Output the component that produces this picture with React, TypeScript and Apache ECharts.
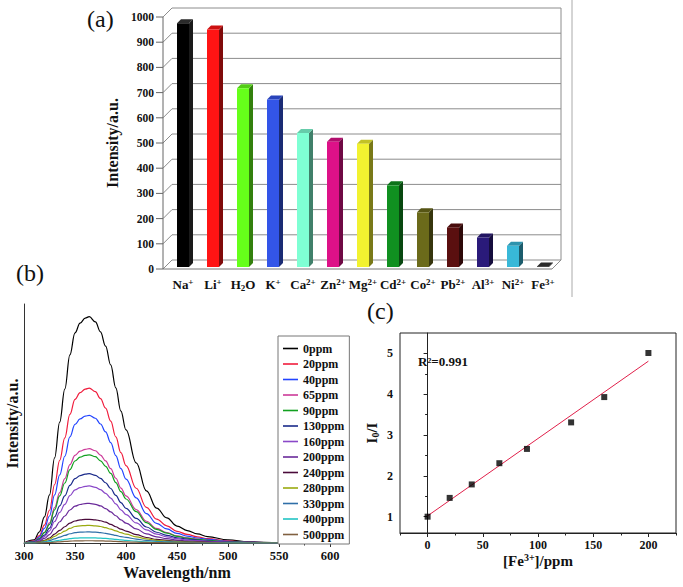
import React, { useEffect, useRef } from "react";
import * as echarts from "echarts";

const FONT = "'Liberation Serif', 'Times New Roman', serif";

// ---------- Panel (a) ----------
const ionLabels = ["Na⁺", "Li⁺", "H₂O", "K⁺", "Ca²⁺", "Zn²⁺", "Mg²⁺", "Cd²⁺", "Co²⁺", "Pb²⁺", "Al³⁺", "Ni²⁺", "Fe³⁺"];
const ionIntensity = [975, 950, 717, 673, 540, 505, 497, 332, 225, 165, 125, 92, 3];
const ionColors = ["#000000", "#ff1414", "#66ff1a", "#3355e8", "#7fffd4", "#dd1188", "#f2f230", "#109020", "#6b6a1a", "#5a0f0f", "#2a1a7a", "#38b8d8", "#000000"];
const intensityTicks = [0, 100, 200, 300, 400, 500, 600, 700, 800, 900, 1000];

// ---------- Panel (b) ----------
const wavelengths = [300, 310, 315, 320, 325, 330, 335, 340, 345, 350, 355, 360, 364, 370, 375, 380, 385, 390, 395, 400, 410, 420, 430, 440, 450, 460, 470, 480, 500, 520, 550, 600];
const spec0 = [0, 13, 46, 109, 201, 356, 506, 644, 787, 879, 920, 941, 947, 925, 883, 824, 745, 649, 552, 473, 335, 218, 146, 105, 71, 52, 38, 27, 13, 5, 1, 0];
const spec20 = [0, 9, 31, 75, 137, 244, 346, 440, 538, 601, 629, 644, 648, 633, 604, 564, 510, 444, 378, 324, 229, 149, 100, 72, 49, 36, 26, 18, 9, 3, 1, 0];
const spec40 = [0, 7, 26, 61, 113, 201, 285, 363, 444, 496, 519, 531, 534, 522, 498, 465, 420, 366, 311, 267, 189, 123, 82, 59, 40, 29, 21, 15, 7, 3, 1, 0];
const spec65 = [0, 5, 19, 45, 84, 148, 211, 269, 328, 367, 384, 392, 395, 386, 368, 344, 311, 271, 230, 197, 140, 91, 61, 44, 30, 22, 16, 11, 5, 2, 0.4, 0];
const spec90 = [0, 5, 18, 43, 78, 139, 197, 251, 307, 343, 359, 367, 369, 361, 344, 321, 291, 253, 215, 184, 131, 85, 57, 41, 28, 20, 15, 11, 5, 2, 0.4, 0];
const spec130 = [0, 4, 14, 33, 62, 109, 155, 197, 241, 269, 282, 288, 290, 283, 270, 252, 228, 199, 169, 145, 103, 67, 45, 32, 22, 16, 12, 8, 4, 1.5, 0.3, 0];
const spec160 = [0, 3, 12, 27, 51, 90, 128, 162, 198, 222, 232, 237, 239, 233, 223, 208, 188, 164, 139, 119, 84, 55, 37, 26, 18, 13, 10, 7, 3, 1.3, 0.3, 0];
const spec200 = [0, 2.3, 8, 19, 35, 62, 89, 113, 138, 154, 161, 165, 166, 162, 155, 144, 130, 114, 97, 83, 59, 38, 26, 18, 12, 9, 7, 5, 2.3, 0.9, 0.2, 0];
const spec240 = [0, 1.4, 5, 11, 21, 37, 53, 68, 83, 92, 97, 99, 99, 97, 93, 87, 78, 68, 58, 50, 35, 23, 15, 11, 7.5, 5.5, 4, 2.8, 1.4, 0.5, 0.1, 0];
const spec280 = [0, 1, 3.6, 8.5, 16, 28, 39, 50, 61, 69, 72, 73, 74, 72, 69, 64, 58, 51, 43, 37, 26, 17, 11, 8, 5.5, 4.1, 3, 2.1, 1, 0.4, 0.1, 0];
const spec330 = [0, 0.6, 2.3, 5.3, 9.8, 17.4, 24.8, 31.6, 38.6, 43.1, 45.1, 46.1, 46.4, 45.3, 43.3, 40.4, 36.5, 31.8, 27, 23.2, 16.4, 10.7, 7.2, 5.1, 3.5, 2.5, 1.9, 1.3, 0.6, 0.2, 0, 0];
const spec400 = [0, 0.3, 1.1, 2.5, 4.6, 8.2, 11.6, 14.8, 18.1, 20.2, 21.2, 21.6, 21.8, 21.3, 20.3, 19, 17.1, 14.9, 12.7, 10.9, 7.7, 5, 3.4, 2.4, 1.6, 1.2, 0.9, 0.6, 0.3, 0.1, 0, 0];
const spec500 = [0, 0.1, 0.5, 1.1, 2, 3.6, 5.1, 6.4, 7.9, 8.8, 9.2, 9.4, 9.5, 9.3, 8.8, 8.2, 7.5, 6.5, 5.5, 4.7, 3.4, 2.2, 1.5, 1.1, 0.7, 0.5, 0.4, 0.3, 0.1, 0.1, 0, 0];
const concNames = ["0ppm", "20ppm", "40ppm", "65ppm", "90ppm", "130ppm", "160ppm", "200ppm", "240ppm", "280ppm", "330ppm", "400ppm", "500ppm"];
const spectra = [spec0, spec20, spec40, spec65, spec90, spec130, spec160, spec200, spec240, spec280, spec330, spec400, spec500];
const specColors = ["#000000", "#f01c3c", "#2244ff", "#cc3a99", "#12a020", "#1a2a8a", "#8a48c8", "#6a2a9a", "#4a0a3a", "#9aaa10", "#2f6fa8", "#22c4c4", "#806040"];

// ---------- Panel (c) ----------
const feConc = [0, 20, 40, 65, 90, 130, 160, 200];
const ratioI0I = [1.0, 1.46, 1.79, 2.31, 2.66, 3.31, 3.93, 5.01];
const fitLine = [[0, 1.02], [200, 4.81]];
const feMajorTicks = [0, 50, 100, 150, 200];
const feMinorTicks = [-25, 25, 75, 125, 175, 225];
const ratioMajorTicks = [1, 2, 3, 4, 5];
const ratioMinorTicks = [1.5, 2.5, 3.5, 4.5];
const fitLabel = "R²=0.991";

const SUP: any = { "⁺": "+", "²": "2", "³": "3" };
const SUB: any = { "₂": "2", "₀": "0" };
function toRich(s: string) {
  let out = "";
  let mode = "";
  let buf = "";
  for (const ch of Array.from(s)) {
    let m = "b";
    let c = ch;
    if (SUP[ch]) { m = "s"; c = SUP[ch]; }
    else if (SUB[ch]) { m = "u"; c = SUB[ch]; }
    if (m !== mode && buf) { out += "{" + mode + "|" + buf + "}"; buf = ""; }
    mode = m;
    buf += c;
  }
  if (buf) out += "{" + mode + "|" + buf + "}";
  return out;
}
function richStyles(size: number) {
  const small = Math.round(size * 0.68);
  return {
    b: { fontFamily: FONT, fontWeight: "bold", fontSize: size, color: "#111", lineHeight: size + 2 },
    s: { fontFamily: FONT, fontWeight: "bold", fontSize: small, color: "#111", verticalAlign: "top", lineHeight: small + 1 },
    u: { fontFamily: FONT, fontWeight: "bold", fontSize: small, color: "#111", verticalAlign: "bottom", lineHeight: small + 1 },
  };
}
function shade(hex: string, f: number) {
  const n = parseInt(hex.slice(1), 16);
  const r = Math.round(((n >> 16) & 255) * f);
  const g = Math.round(((n >> 8) & 255) * f);
  const b = Math.round((n & 255) * f);
  return "rgb(" + r + "," + g + "," + b + ")";
}

export default function App() {
  const ref = useRef<HTMLDivElement>(null);
  useEffect(() => {
    document.body.style.margin = "0";
    const chart = echarts.init(ref.current as HTMLDivElement, undefined, { renderer: "svg" });
    const D = 9;
    const frameItem = (params: any, api: any) => {
      const cs = params.coordSys;
      const X0 = cs.x - 5;
      const XR = cs.x + cs.width - 6;
      const y0 = api.coord([0, 0])[1];
      const yT = api.coord([0, 1000])[1];
      const st = { stroke: "#8c8c8c", lineWidth: 1 };
      const ch: any[] = [];
      intensityTicks.forEach((v) => {
        const y = api.coord([0, v])[1];
        ch.push({ type: "line", shape: { x1: X0 - 7, y1: y, x2: X0, y2: y }, style: { stroke: "#666", lineWidth: 1 } });
        ch.push({ type: "line", shape: { x1: X0, y1: y, x2: X0 + D, y2: y - D }, style: st });
        ch.push({ type: "line", shape: { x1: X0 + D, y1: y - D, x2: XR + D, y2: y - D }, style: st });
      });
      ch.push({ type: "line", shape: { x1: X0, y1: y0, x2: X0, y2: yT }, style: { stroke: "#666", lineWidth: 1 } });
      ch.push({ type: "line", shape: { x1: X0, y1: y0, x2: XR, y2: y0 }, style: { stroke: "#777", lineWidth: 1 } });
      ch.push({ type: "line", shape: { x1: XR, y1: y0, x2: XR + D, y2: y0 - D }, style: st });
      ch.push({ type: "line", shape: { x1: XR + D, y1: y0 - D, x2: XR + D, y2: yT - D }, style: st });
      return { type: "group", children: ch };
    };
    const barItem = (params: any, api: any) => {
      const i = api.value(0);
      const v = api.value(1);
      const p = api.coord([i, v]);
      const cx = p[0];
      const yb = api.coord([i, 0])[1] - 2;
      const yt = Math.min(p[1], yb - 0.5);
      const w = 12;
      const d = 4;
      const col = ionColors[params.dataIndex];
      const side = col === "#000000" ? "#1a1a1a" : shade(col, 0.5);
      const top = col === "#000000" ? "#2a2a2a" : shade(col, 0.8);
      return {
        type: "group",
        children: [
          { type: "polygon", shape: { points: [[cx + w / 2, yb], [cx + w / 2 + d, yb - d], [cx + w / 2 + d, yt - d], [cx + w / 2, yt]] }, style: { fill: side } },
          { type: "polygon", shape: { points: [[cx - w / 2, yt], [cx + w / 2, yt], [cx + w / 2 + d, yt - d], [cx - w / 2 + d, yt - d]] }, style: { fill: top } },
          { type: "rect", shape: { x: cx - w / 2, y: yt, width: w, height: yb - yt }, style: { fill: col } },
        ],
      };
    };

    const boldLabel = (size: number) => ({ fontFamily: FONT, fontWeight: "bold", fontSize: size, color: "#111" });
    const plain = (v: number) => String(v);

    const specSeries = spectra.map((arr, k) => ({
      type: "line",
      name: concNames[k],
      xAxisIndex: 1,
      yAxisIndex: 1,
      data: wavelengths.map((w, i) => [w, arr[i]]),
      symbol: "none",
      smooth: 0.4,
      smoothMonotone: "x",
      lineStyle: { width: 1.2, color: specColors[k] },
      itemStyle: { color: specColors[k] },
      z: 3,
    }));

    chart.setOption({
      animation: false,
      backgroundColor: "#ffffff",
      grid: [
        { left: 168, top: 17, width: 390, height: 252 },
        { left: 24, top: 304, width: 306, height: 239 },
        { left: 400, top: 333, width: 276, height: 200, show: true, borderColor: "#222", borderWidth: 1, backgroundColor: "transparent" },
      ],
      xAxis: [
        {
          type: "category", gridIndex: 0, data: ionLabels,
          axisLine: { show: false }, axisTick: { show: false },
          axisLabel: { margin: 8, formatter: (v: string) => toRich(v), rich: richStyles(13), interval: 0 },
        },
        {
          type: "value", gridIndex: 1, min: 300, max: 600, interval: 50,
          axisLine: { lineStyle: { color: "#333", width: 1 } },
          axisTick: { length: 4, lineStyle: { color: "#333" } },
          minorTick: { show: true, splitNumber: 2, length: 2.5, lineStyle: { color: "#333" } },
          splitLine: { show: false },
          axisLabel: { ...boldLabel(12.5), margin: 6, formatter: plain },
          name: "Wavelength/nm", nameLocation: "middle", nameGap: 21,
          nameTextStyle: { ...boldLabel(16) },
        },
        {
          type: "value", gridIndex: 2, min: -25, max: 225, position: "bottom",
          axisLine: { lineStyle: { color: "#222" } },
          axisTick: { length: 4, customValues: feMajorTicks, lineStyle: { color: "#222" } },
          axisLabel: { ...boldLabel(12), margin: 6, customValues: feMajorTicks, formatter: plain },
          splitLine: { show: false },
          name: toRich("[Fe³⁺]/ppm"), nameLocation: "middle", nameGap: 19,
          nameTextStyle: { rich: richStyles(15) },
        },
        {
          type: "value", gridIndex: 2, min: -25, max: 225, position: "bottom", offset: 0,
          axisLine: { show: false },
          axisTick: { length: 2.5, customValues: feMinorTicks, lineStyle: { color: "#222" } },
          axisLabel: { show: false },
          splitLine: { show: false },
        },
      ],
      yAxis: [
        {
          type: "value", gridIndex: 0, min: 0, max: 1000, interval: 100,
          axisLine: { show: false }, axisTick: { show: false }, splitLine: { show: false },
          axisLabel: { ...boldLabel(11.5), margin: 14, formatter: plain },
          name: "Intensity/a.u.", nameLocation: "middle", nameGap: 35,
          nameTextStyle: { ...boldLabel(16) },
        },
        {
          type: "value", gridIndex: 1, min: 0, max: 1000,
          axisLine: { show: true, lineStyle: { color: "#333" } }, axisTick: { show: false },
          axisLabel: { show: false }, splitLine: { show: false },
          name: "Intensity/a.u.", nameLocation: "middle", nameGap: 4,
          nameTextStyle: { ...boldLabel(16) },
        },
        {
          type: "value", gridIndex: 2, min: 0.6, max: 5.5, position: "left",
          axisLine: { show: true, lineStyle: { color: "#222" } },
          axisTick: { length: 4, customValues: ratioMajorTicks, lineStyle: { color: "#222" } },
          axisLabel: { ...boldLabel(12), margin: 7, customValues: ratioMajorTicks, formatter: plain },
          splitLine: { show: false },
          name: toRich("I₀/I"), nameLocation: "middle", nameGap: 20,
          nameTextStyle: { rich: richStyles(15) },
        },
        {
          type: "value", gridIndex: 2, min: 0.6, max: 5.5, position: "left", offset: 0,
          axisLine: { show: false },
          axisTick: { length: 2.5, customValues: ratioMinorTicks, lineStyle: { color: "#222" } },
          axisLabel: { show: false }, splitLine: { show: false },
        },
      ],
      legend: {
        data: concNames,
        orient: "vertical",
        left: 278,
        top: 336,
        icon: "rect",
        itemWidth: 15,
        itemHeight: 1.6,
        itemGap: 2.5,
        padding: [6, 5, 3, 5],
        borderColor: "#777",
        borderWidth: 1,
        backgroundColor: "#ffffff",
        selectedMode: false,
        textStyle: { fontFamily: FONT, fontWeight: "bold", fontSize: 12, color: "#111", lineHeight: 13 },
      },
      series: [
        { type: "custom", xAxisIndex: 0, yAxisIndex: 0, data: [[0, 0]], renderItem: frameItem, silent: true, z: 1 },
        { type: "custom", xAxisIndex: 0, yAxisIndex: 0, data: ionIntensity.map((v, i) => [i, v]), renderItem: barItem, z: 2 },
        ...specSeries,
        {
          type: "line", name: "fit", xAxisIndex: 2, yAxisIndex: 2, data: fitLine, symbol: "none",
          lineStyle: { color: "#e0204a", width: 1 }, z: 3,
        },
        {
          type: "scatter", name: "I0/I", xAxisIndex: 2, yAxisIndex: 2,
          data: feConc.map((c, i) => [c, ratioI0I[i]]),
          symbol: "rect", symbolSize: 6, itemStyle: { color: "#000" }, z: 4,
        },
      ],
      graphic: [
        { type: "text", x: 87, y: 19, style: { text: "(a)", font: "24px " + FONT, fill: "#111", verticalAlign: "middle" } },
        { type: "text", x: 16, y: 273, style: { text: "(b)", font: "24px " + FONT, fill: "#111", verticalAlign: "middle" } },
        { type: "text", x: 367, y: 311, style: { text: "(c)", font: "24px " + FONT, fill: "#111", verticalAlign: "middle" } },
        { type: "text", x: 418, y: 361, style: { text: fitLabel, font: "bold 13px " + FONT, fill: "#111", verticalAlign: "middle" } },
        { type: "line", shape: { x1: 572, y1: 0, x2: 572, y2: 297 }, style: { stroke: "#aaa", lineWidth: 1 } },
      ],
    });
    return () => chart.dispose();
  }, []);
  return <div ref={ref} style={{ width: 683, height: 587 }} />;
}
